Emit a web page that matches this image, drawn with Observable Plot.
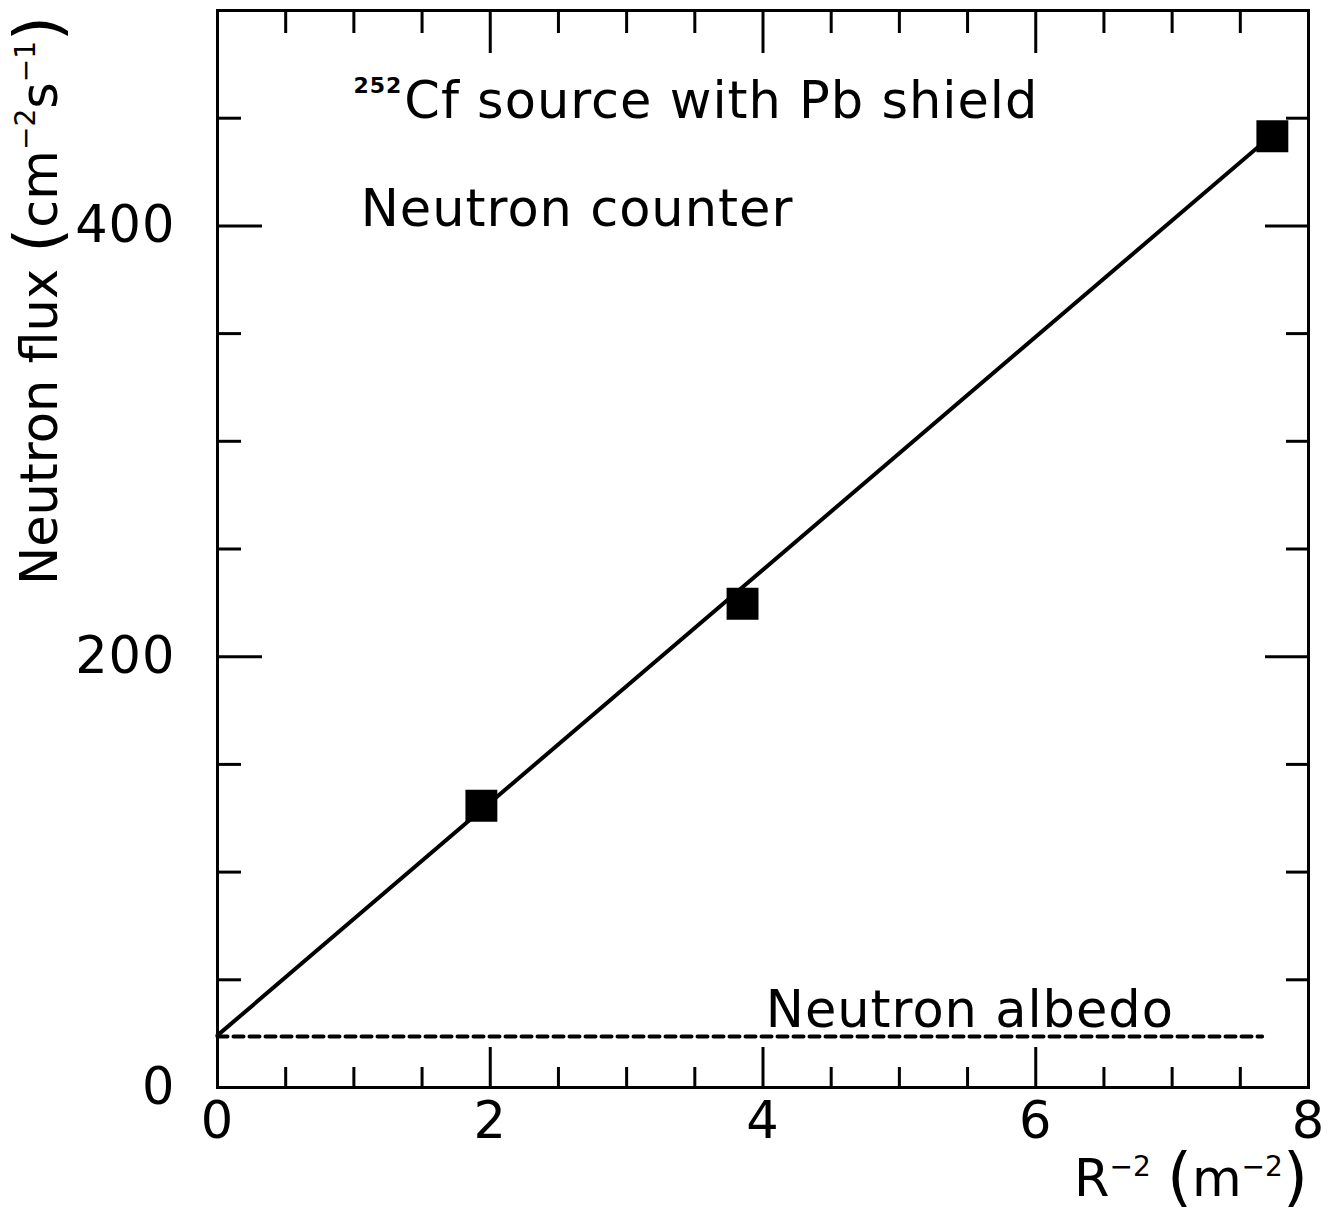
<!DOCTYPE html>
<html>
<head>
<meta charset="utf-8">
<script src="https://cdn.jsdelivr.net/npm/d3@7"></script>
<script src="https://cdn.jsdelivr.net/npm/@observablehq/plot@0.6"></script>
<style>
  body { margin: 0; background: #fff; }
  #chart svg { display: block; }
</style>
</head>
<body>
<div id="chart"></div>
<script>
// Measured neutron flux vs. inverse square distance (252Cf source, Pb shield)
const invR2 = [1.935, 3.85, 7.735];
const flux = [130.8, 224.6, 441.6];

// Straight-line fit, given by its two end points
const fitX = [0, 7.73];
const fitY = [24.2, 442.0];

// Neutron albedo background level and its extent along x
const albedoFlux = 23.7;
const albedoX = [0, 7.66];

// Tick positions
const xLabelTicks = [0, 2, 4, 6, 8];
const xMajorTicks = [2, 4, 6];
const xMinorTicks = [0.5, 1, 1.5, 2.5, 3, 3.5, 4.5, 5, 5.5, 6.5, 7, 7.5];
const yLabelTicks = [0, 200, 400];
const yMajorTicks = [200, 400];
const yMinorTicks = [50, 100, 150, 250, 300, 350, 450];

// Text annotations inside the frame
const annotations = [
  {x: 1.05, y: 400, text: "Neutron counter"},
  {x: 1.37, y: 450, text: "Cf source with Pb shield"}
];
const isotope = [{x: 1.37, y: 450, text: "252"}];
const albedoLabel = [{x: 4.02, y: albedoFlux, text: "Neutron albedo"}];

const W = 1330, H = 1214;
const mL = 217, mR = 22, mT = 10, mB = 127;
const innerW = W - mL - mR, innerH = H - mT - mB;
const FONT = "'DejaVu Sans', sans-serif";
const FS = 51;

const points = invR2.map((x, i) => ({x, y: flux[i]}));
const fit = fitX.map((x, i) => ({x, y: fitY[i]}));
const albedo = albedoX.map(x => ({x, y: albedoFlux}));

const tick = {stroke: "#000", strokeWidth: 3};

const plot = Plot.plot({
  width: W,
  height: H,
  marginLeft: mL,
  marginRight: mR,
  marginTop: mT,
  marginBottom: mB,
  style: {fontFamily: FONT, fontSize: FS + "px", color: "#000", background: "#fff", letterSpacing: "1px"},
  x: {domain: [0, 8]},
  y: {domain: [0, 500]},
  marks: [
    Plot.line(albedo, {x: "x", y: "y", stroke: "#000", strokeWidth: 4, strokeDasharray: "10,6"}),
    Plot.line(fit, {x: "x", y: "y", stroke: "#000", strokeWidth: 4}),
    Plot.dot(points, {x: "x", y: "y", symbol: "square", r: 18, fill: "#000", stroke: null}),

    // inward ticks on all four sides
    Plot.ruleX(xMajorTicks, {x: d => d, insetTop: innerH - 40, ...tick}),
    Plot.ruleX(xMinorTicks, {x: d => d, insetTop: innerH - 20, ...tick}),
    Plot.ruleX(xMajorTicks, {x: d => d, insetBottom: innerH - 43, ...tick}),
    Plot.ruleX(xMinorTicks, {x: d => d, insetBottom: innerH - 23, ...tick}),
    Plot.ruleY(yMajorTicks, {y: d => d, insetRight: innerW - 45, ...tick}),
    Plot.ruleY(yMinorTicks, {y: d => d, insetRight: innerW - 24, ...tick}),
    Plot.ruleY(yMajorTicks, {y: d => d, insetLeft: innerW - 43, ...tick}),
    Plot.ruleY(yMinorTicks, {y: d => d, insetLeft: innerW - 22, ...tick}),
    Plot.frame({stroke: "#000", strokeWidth: 3}),

    Plot.axisX({ticks: xLabelTicks, tickSize: 0, tickPadding: 14, label: null, fontSize: FS}),
    Plot.axisY({ticks: yLabelTicks, tickSize: 0, tickPadding: 42, label: null, fontSize: FS}),

    Plot.text(annotations, {x: "x", y: "y", text: "text", textAnchor: "start", lineAnchor: "bottom", fontSize: FS, fill: "#000"}),
    Plot.text(isotope, {x: "x", y: "y", text: "text", textAnchor: "end", lineAnchor: "bottom", dy: -25, dx: -2, fontSize: 22, fontWeight: "bold", fill: "#000"}),
    Plot.text(albedoLabel, {x: "x", y: "y", text: "text", textAnchor: "start", lineAnchor: "bottom", dy: -9, fontSize: FS, fill: "#000"})
  ]
});

// Axis titles with superscripts and tall parentheses
function richText(svg, x, y, rotate, parts) {
  const t = svg.append("text")
    .attr("transform", `translate(${x},${y})` + (rotate ? ` rotate(${rotate})` : ""))
    .attr("fill", "#000")
    .attr("font-family", FONT)
    .attr("text-anchor", "start")
    .style("letter-spacing", "0px");
  let shift = 0;
  for (const p of parts) {
    const s = p.shift || 0;
    t.append("tspan")
      .attr("font-size", p.size)
      .attr("dy", s - shift)
      .text(p.t);
    shift = s;
  }
}

const svg = d3.select(plot);
richText(svg, 57, 585, -90, [
  {t: "Neutron flux ", size: FS},
  {t: "(", size: 64, shift: 3},
  {t: "cm", size: FS},
  {t: "\u22122", size: 28, shift: -22},
  {t: "s", size: FS},
  {t: "\u22121", size: 28, shift: -22},
  {t: ")", size: 64, shift: 3}
]);
richText(svg, 1074, 1196, 0, [
  {t: "R", size: FS},
  {t: "\u22122", size: 28, shift: -20},
  {t: " ", size: FS},
  {t: "(", size: 64, shift: 3},
  {t: "m", size: FS},
  {t: "\u22122", size: 28, shift: -20},
  {t: ")", size: 64, shift: 3}
]);

document.getElementById("chart").appendChild(plot);
</script>
</body>
</html>
